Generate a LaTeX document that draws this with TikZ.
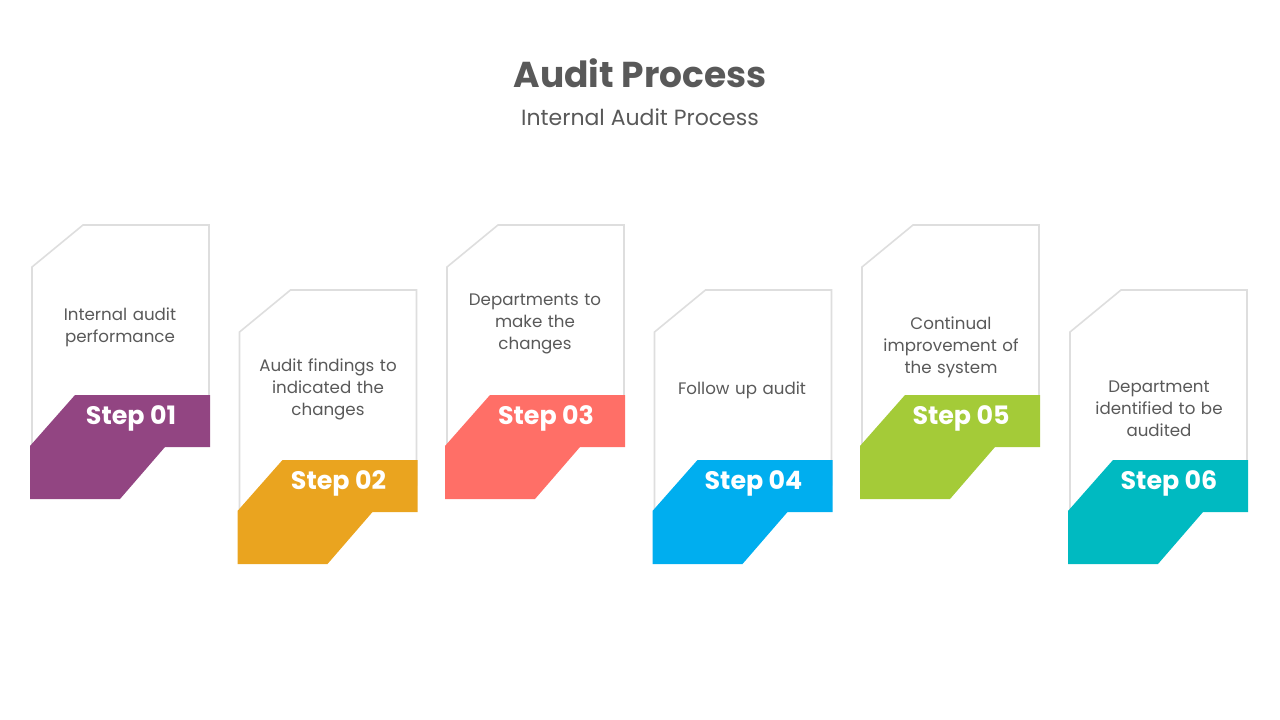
\documentclass[tikz,border=0pt]{standalone}
\usepackage{fontspec}
\setmainfont{Poppins}
\definecolor{c1}{HTML}{924582}
\definecolor{c2}{HTML}{EAA41F}
\definecolor{c3}{HTML}{FF6F67}
\definecolor{c4}{HTML}{00AEEF}
\definecolor{c5}{HTML}{A4CB38}
\definecolor{c6}{HTML}{00BAC1}
\definecolor{txt}{HTML}{595959}
\begin{document}
\begin{tikzpicture}[x=0.75pt,y=-0.75pt,
  card/.style={fill=white,draw=black!13,line width=1.2pt},
  body/.style={text=txt,font=\fontsize{12.5}{16.5}\selectfont,align=center,text width=120pt},
  steplbl/.style={text=white,font=\bfseries\fontsize{19}{22}\selectfont}]
\useasboundingbox (0,0) rectangle (1280,720);
\node[text=txt,font=\bfseries\fontsize{27}{30}\selectfont] (title) at (640,73) {Audit Process};
\node[text=txt,font=\fontsize{16.5}{20}\selectfont] (sub) at (640,117) {Internal Audit Process};
\foreach \i/\x/\y/\c/\t in {
  1/30/0/c1/{Internal audit\\performance},
  2/237.5/65/c2/{Audit findings to\\indicated the\\changes},
  3/445/0/c3/{Departments to\\make the\\changes},
  4/652.5/65/c4/{Follow up audit},
  5/860/0/c5/{Continual\\improvement of\\the system},
  6/1068/65/c6/{Department\\identified to be\\audited}}{
  \begin{scope}[shift={(\x,\y)}]
    \draw[card] (53,225) -- (179,225) -- (179,420) -- (2,445) -- (2,267) -- cycle;
    \fill[\c] (45,395) -- (180,395) -- (180,447) -- (135,447) -- (90,499) -- (0,499) -- (0,446) -- cycle;
    \node[body] (t\i) at (90,0) {};
    \node[steplbl] (s\i) at (101,418) {Step 0\i};
  \end{scope}
}
\node[body] at (120,327) {Internal audit\\performance};
\node[body] at (328,389) {Audit findings to\\indicated the\\changes};
\node[body] at (535,324) {Departments to\\make the\\changes};
\node[body] at (742,390) {Follow up audit};
\node[body] at (951,347) {Continual\\improvement of\\the system};
\node[body] at (1159,409) {Department\\identified to be\\audited};
\end{tikzpicture}
\end{document}
